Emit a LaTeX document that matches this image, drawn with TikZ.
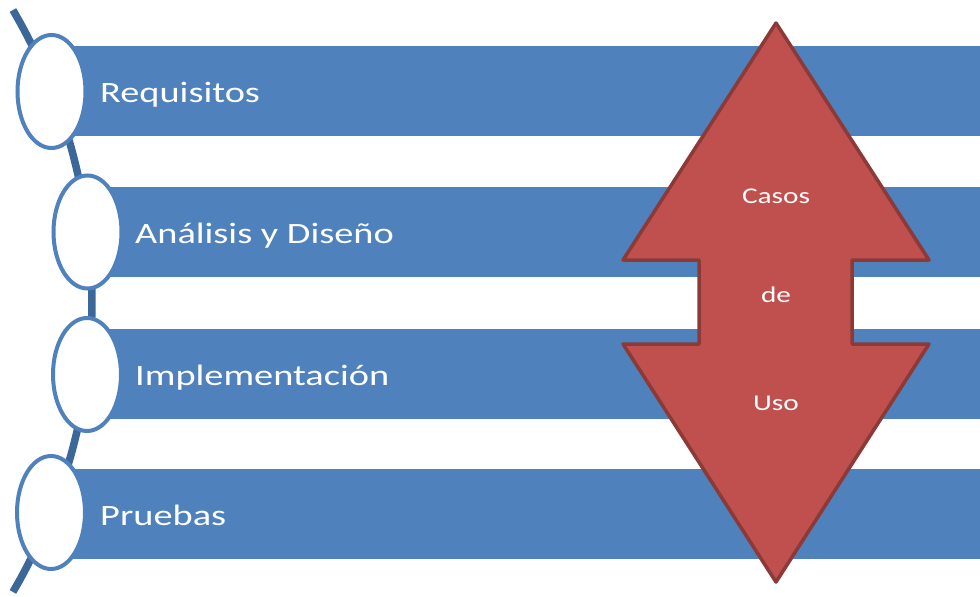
\documentclass[tikz,border=0pt]{standalone}
\usepackage{fontspec}
\usetikzlibrary{shapes.geometric}
\newfontfamily\barfont[FakeStretch=1.3]{Carlito}
\definecolor{barblue}{HTML}{4F81BD}
\definecolor{arcblue}{HTML}{3B6799}
\definecolor{arrowred}{HTML}{C0504D}
\definecolor{arrowline}{HTML}{8C3A38}
\tikzset{
  bar/.style={rectangle, fill=barblue, draw=none, minimum width=940pt, minimum height=90pt, inner sep=0pt, anchor=west},
  ring/.style={ellipse, draw=barblue, line width=4pt, fill=white, minimum width=68pt, minimum height=113pt, inner sep=0pt},
  bartext/.style={anchor=base west, text=white, font=\barfont\fontsize{29.5}{34}\selectfont, inner sep=0pt},
  arrowtext/.style={anchor=base, text=white, font=\barfont\fontsize{22.5}{27}\selectfont, inner sep=0pt}
}
\begin{document}
\begin{tikzpicture}[x=1pt,y=-1pt]
\useasboundingbox[fill=white] (0,0) rectangle (980,597);
% curved spine
\draw[arcblue, line width=7.5pt] plot[domain=-30.4:30.4, samples=80] ({-483+575*cos(\x)}, {301+575*sin(\x)});
% bars
\node[bar] (b1) at (51.5,91) {};
\node[bar] (b2) at (87.5,232) {};
\node[bar] (b3) at (87,374) {};
\node[bar] (b4) at (51,514) {};
% rings
\node[ring] (e1) at (51.5,91.5) {};
\node[ring] (e2) at (87.5,232) {};
\node[ring] (e3) at (87,374.5) {};
\node[ring] (e4) at (51,512.5) {};
% labels
\node[bartext] (t1) at (100,102) {Requisitos};
\node[bartext] (t2) at (135,243) {Análisis y Diseño};
\node[bartext] (t3) at (135,385) {Implementación};
\node[bartext] (t4) at (100,525) {Pruebas};
% up-down arrow
\draw[fill=arrowred, draw=arrowline, line width=3.5pt, line join=round]
  (776,23) -- (929,260) -- (852,260) -- (852,344) -- (929,344) -- (776,582)
  -- (623,344) -- (699,344) -- (699,260) -- (623,260) -- cycle;
\node[arrowtext] (a1) at (776,203) {Casos};
\node[arrowtext] (a2) at (776,302) {de};
\node[arrowtext] (a3) at (776,410) {Uso};
\end{tikzpicture}
\end{document}
